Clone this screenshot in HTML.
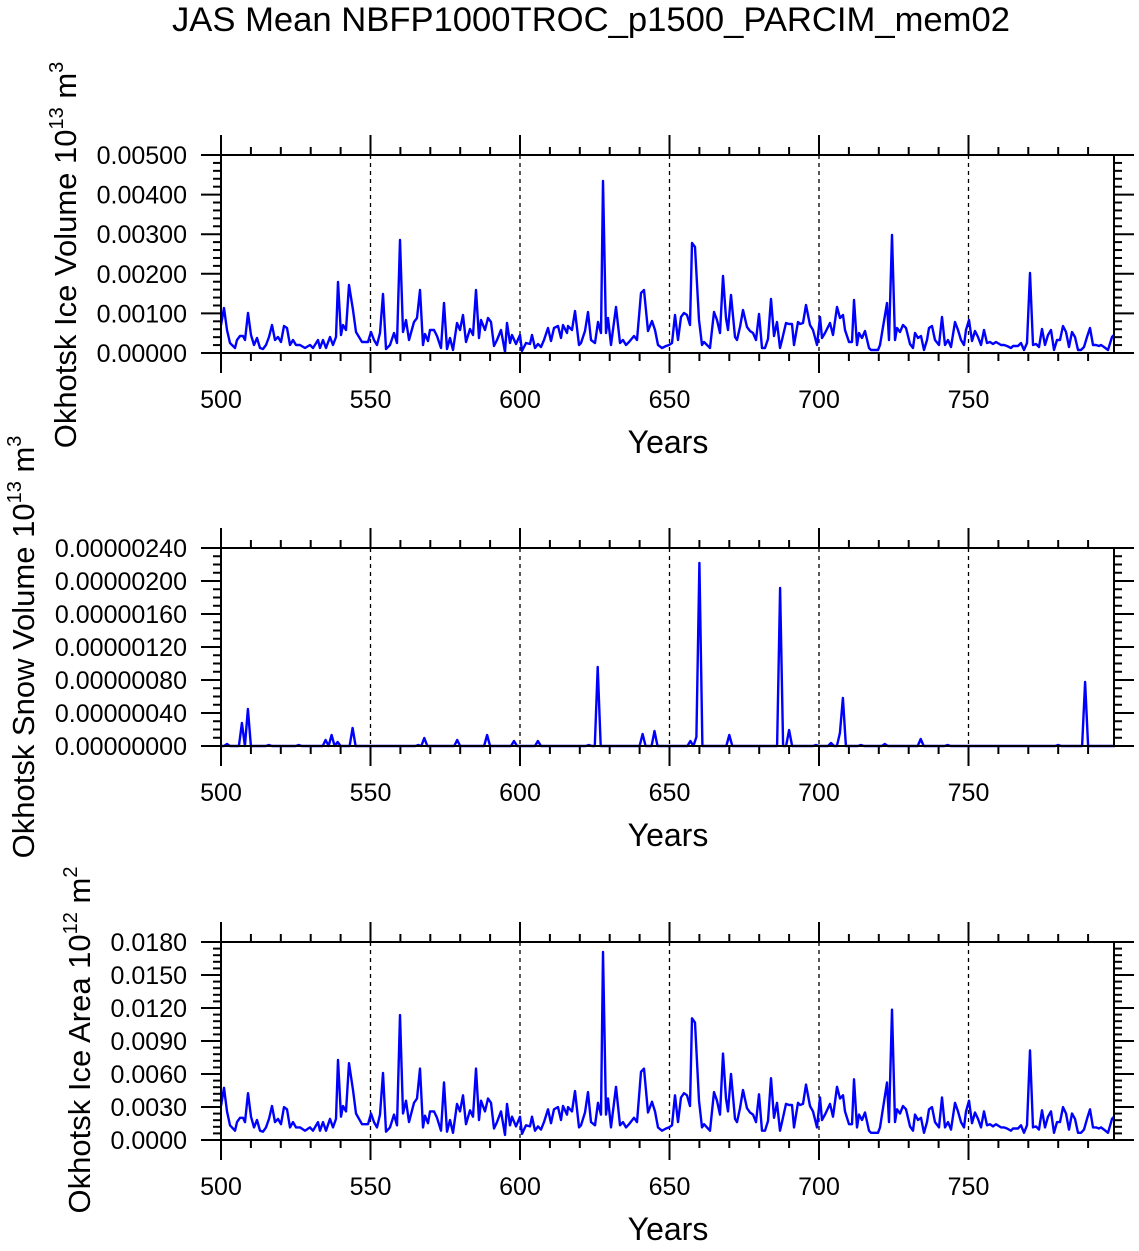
<!DOCTYPE html>
<html><head><meta charset="utf-8"><style>
body{margin:0;background:#fff}
svg text{font-family:"Liberation Sans",Arial,sans-serif;fill:#000}
</style></head><body>
<svg id="s" width="1139" height="1246" xmlns="http://www.w3.org/2000/svg">
<text x="591" y="31" font-size="34" text-anchor="middle" textLength="838" lengthAdjust="spacingAndGlyphs">JAS Mean NBFP1000TROC_p1500_PARCIM_mem02</text>
<g id="g"></g>
</svg>
<script>
var NS="http://www.w3.org/2000/svg",g=document.getElementById('g');
function el(t,a,txt){var e=document.createElementNS(NS,t);for(var k in a)e.setAttribute(k,a[k]);if(txt!==undefined)e.textContent=txt;g.appendChild(e);return e;}
var L=221,R=1114;function X(yr){return L+(yr-500)*2.99;}
var d1="221,325 224,308 227,330 230,343 235,348 237,340 240,336 243,336 245,340 248,313 251,335 254,345 257,338 260,348 263,349 266,345 269,337 272,325 275,340 278,337 281,342 284,326 287,328 290,345 293,340 296,345 300,345 305,348 310,345 313,348 318,340 320,348 323,340 326,348 330,337 333,345 336,337 338,282 341,335 343,325 346,330 349,285 353,310 356,332 362,342 368,342 371,332 374,340 377,345 380,333 383,294 386,349 390,345 394,333 397,343 400,240 403,332 406,320 409,340 414,322 417,318 420,290 423,345 425,334 428,341 430,330 434,330 437,336 441,348 444,303 447,349 450,338 453,350 457,323 460,330 463,315 466,342 470,329 473,335 476,290 479,338 481,320 485,330 488,318 491,322 494,346 497,340 501,330 505,352 507,323 510,343 512,335 516,344 520,335 522,351 526,343 530,344 532,335 535,348 538,344 541,347 544,340 548,328 551,341 554,328 558,326 561,338 563,325 567,333 568,326 572,330 575,311 579,345 581,343 585,331 588,312 591,340 595,343 598,322 601,333 603,181 606,333 608,318 611,345 616,307 620,343 623,340 626,345 629,342 634,336 637,340 641,293 644,290 648,331 652,321 655,330 658,345 662,348 666,346 669,345 672,343 675,315 678,340 681,317 684,313 687,315 690,325 692,243 695,247 699,320 702,345 704,342 708,346 710,348 714,312 717,320 720,333 723,276 726,318 728,330 731,295 735,337 737,340 740,327 743,310 747,327 750,331 753,333 756,340 759,314 762,348 765,348 768,339 771,299 774,336 777,322 780,348 782,340 786,323 789,324 792,324 794,345 798,322 800,324 803,323 806,305 810,325 813,330 817,345 820,317 822,338 825,333 830,323 833,335 837,307 840,318 843,315 845,330 849,342 852,342 854,300 857,345 859,333 862,338 865,331 869,348 871,350 874,350 878,350 880,345 884,321 887,303 889,340 892,235 895,340 897,328 900,332 903,325 906,328 910,344 913,348 915,333 918,338 921,336 924,350 927,340 929,328 932,326 935,340 939,345 942,317 945,345 948,340 951,347 955,322 958,330 961,340 964,345 966,330 969,320 972,341 975,331 978,337 981,345 984,330 987,343 990,342 993,344 996,342 1001,345 1004,345 1007,346 1011,348 1013,346 1018,346 1021,343 1024,350 1027,343 1030,273 1033,345 1036,344 1039,347 1042,329 1045,345 1048,335 1051,330 1054,350 1057,340 1060,340 1063,326 1066,332 1069,347 1072,332 1075,337 1078,350 1081,350 1084,347 1087,337 1090,328 1093,345 1096,345 1099,346 1101,345 1104,347 1108,350 1112,337 1114,335";
function panel(T,B,labs,nminor,title,tx,tcy){
 for(var yr=550;yr<=750;yr+=50)el('line',{x1:X(yr),x2:X(yr),y1:T,y2:B,stroke:'#000','stroke-width':1.3,'stroke-dasharray':'4,4'});
 for(var yr=500;yr<800;yr+=10){var x=X(yr),M=yr%50==0;
  el('line',{x1:x,x2:x,y1:B,y2:B+(M?20:8),stroke:'#000','stroke-width':2});
  el('line',{x1:x,x2:x,y1:T,y2:T-(M?20:8),stroke:'#000','stroke-width':2});
  if(M)el('text',{x:x,y:B+55,'font-size':25,'text-anchor':'middle'},String(yr));}
 var n=labs.length-1,st=(B-T)/n;
 for(var i=0;i<=n;i++){var y=B-i*st;
  el('line',{x1:L-20,x2:L,y1:y,y2:y,stroke:'#000','stroke-width':2});
  el('line',{x1:R,x2:R+20,y1:y,y2:y,stroke:'#000','stroke-width':2});
  el('text',{x:187,y:y+9,'font-size':25,'text-anchor':'end'},labs[i]);
  if(i<n)for(var j=1;j<nminor;j++){var yy=y-j*st/nminor;
   el('line',{x1:L-8,x2:L,y1:yy,y2:yy,stroke:'#000','stroke-width':2});
   el('line',{x1:R,x2:R+8,y1:yy,y2:yy,stroke:'#000','stroke-width':2});}}
 el('text',{x:668,y:B+100,'font-size':32,'text-anchor':'middle'},'Years');
 var t=el('text',{transform:'translate('+tx+','+tcy+') rotate(-90)','font-size':31,'text-anchor':'middle'});
 t.innerHTML=title;
}
function frame(T,B){el('rect',{x:L,y:T,width:R-L,height:B-T,fill:'none',stroke:'#000','stroke-width':2});}
panel(155,353,['0.00000','0.00100','0.00200','0.00300','0.00400','0.00500'],5,'Okhotsk Ice Volume 10<tspan dy="-13" font-size="20">13</tspan><tspan dy="13"> m</tspan><tspan dy="-13" font-size="20">3</tspan>',76,255);
el('polyline',{points:d1,fill:'none',stroke:'#0000ff','stroke-width':2.4,'stroke-linejoin':'round'});
frame(155,353);
panel(548,746,['0.00000000','0.00000040','0.00000080','0.00000120','0.00000160','0.00000200','0.00000240'],4,'Okhotsk Snow Volume 10<tspan dy="-13" font-size="20">13</tspan><tspan dy="13"> m</tspan><tspan dy="-13" font-size="20">3</tspan>',34,647);
var sp={502:744,507:723,509:709,516:745,526:745,535:740,537:735,539:742,544:728,566:745,568:738,579:740,589:735,598:741,606:741,623:745,626:667,641:734,645:731,657:741,659:737,660:563,670:735,687:588,690:730,699:745,704:743,707:733,708:698,714:745,722:744,734:739,743:745,780:745,789:682};
var p=[];for(var yr=500;yr<=799;yr++){p.push(X(yr).toFixed(1)+','+(sp[yr]||746));}
el('polyline',{points:p.join(' '),fill:'none',stroke:'#0000ff','stroke-width':2.4,'stroke-linejoin':'round'});
frame(548,746);
panel(942,1140,['0.0000','0.0030','0.0060','0.0090','0.0120','0.0150','0.0180'],5,'Okhotsk Ice Area 10<tspan dy="-13" font-size="20">12</tspan><tspan dy="13"> m</tspan><tspan dy="-13" font-size="20">2</tspan>',90,1040);
var q=d1.split(' ').map(function(s){var a=s.split(',');var h=353-(+a[1]);var y=1140-(h*1.07+4);if(y>1140)y=1140;return a[0]+','+y.toFixed(1);}).join(' ');
el('polyline',{points:q,fill:'none',stroke:'#0000ff','stroke-width':2.4,'stroke-linejoin':'round'});
frame(942,1140);
</script>
</body></html>
